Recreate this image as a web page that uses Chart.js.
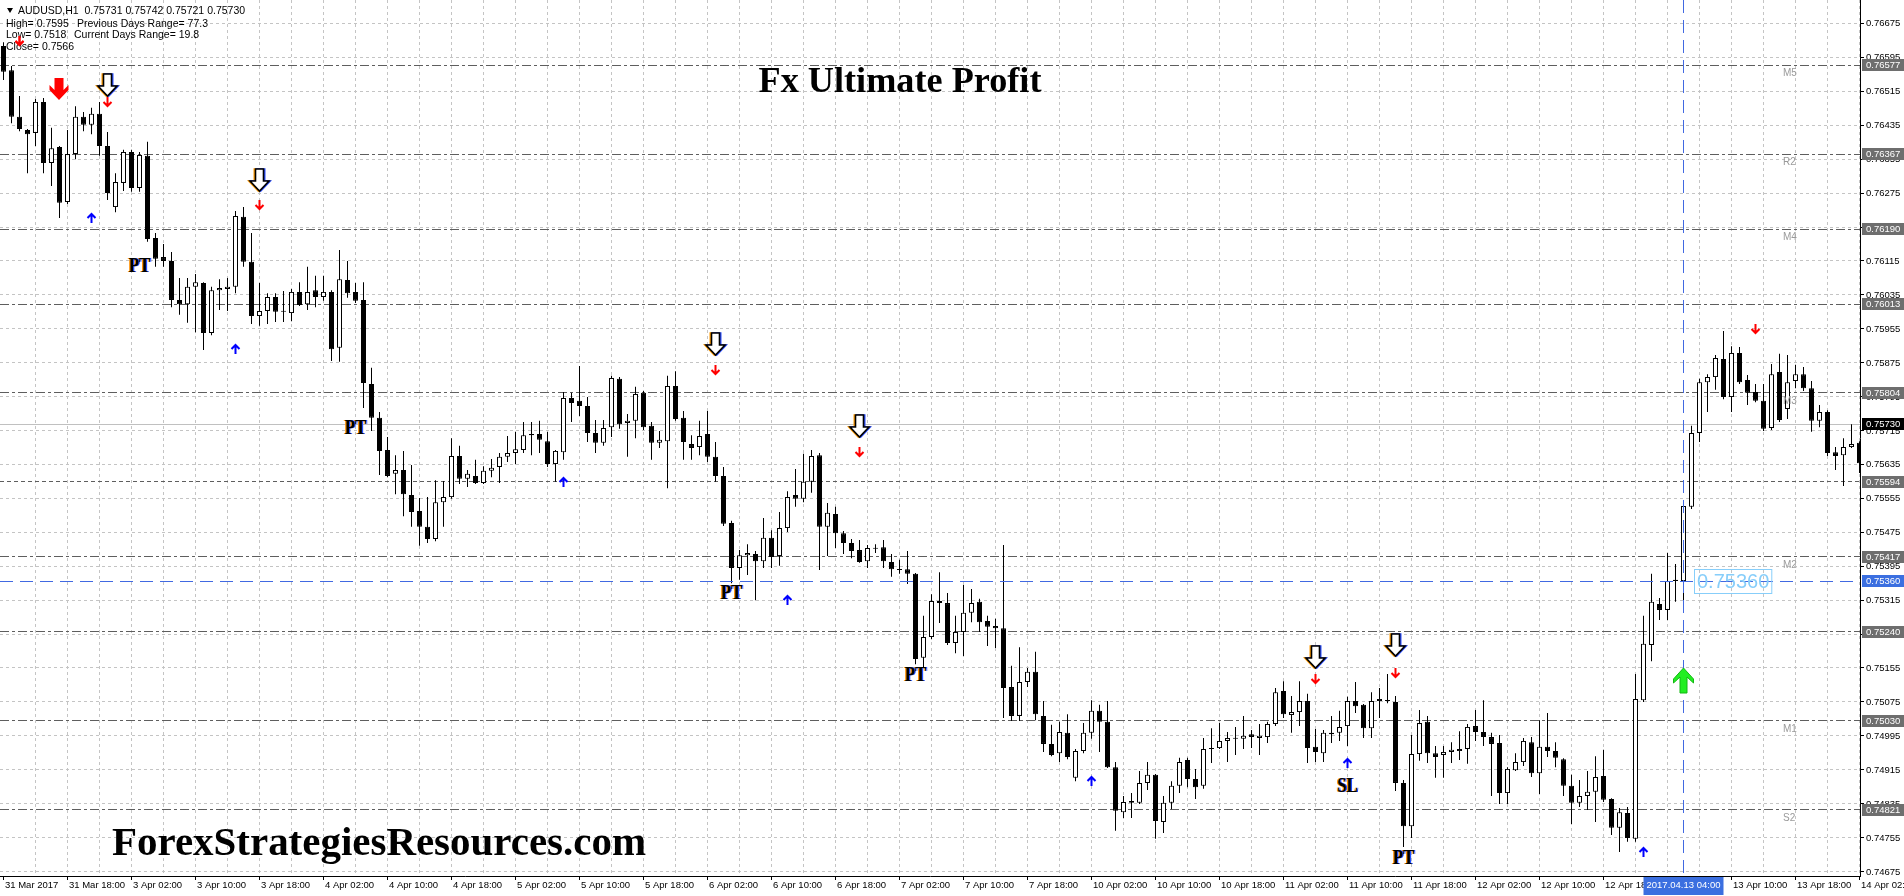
<!DOCTYPE html>
<html><head><meta charset="utf-8">
<script src="https://cdn.jsdelivr.net/npm/chart.js"></script>
<style>html,body{margin:0;padding:0;background:#fff;overflow:hidden}canvas{display:block}</style>
</head><body>
<canvas id="c" width="1904" height="896" style="width:1904px;height:896px"></canvas>
<script>
// ---------------- DATA (AUDUSD, H1) ----------------
const opens = [
0.76622,0.76565,0.76455,0.76424,0.76417,0.76490,0.76346,0.76384,0.76254,0.76367,
0.76455,0.76436,0.76462,0.76386,0.76242,0.76299,0.76372,0.76287,0.76363,0.76169,
0.76124,0.76115,0.76023,0.76013,0.76054,0.76063,0.75945,0.76046,0.76049,0.76054,
0.76219,0.76113,0.75985,0.75997,0.76030,0.75997,0.75992,0.76042,0.76013,0.76046,
0.76030,0.76042,0.75910,0.76070,0.76042,0.76023,0.75825,0.75745,0.75669,0.75613,
0.75622,0.75563,0.75525,0.75488,0.75459,0.75546,0.75558,0.75655,0.75601,0.75608,
0.75591,0.75620,0.75629,0.75653,0.75662,0.75669,0.75707,0.75707,0.75690,0.75636,
0.75664,0.75792,0.75785,0.75773,0.75709,0.75686,0.75723,0.75837,0.75733,0.75738,
0.75804,0.75726,0.75686,0.75690,0.75820,0.75745,0.75683,0.75676,0.75707,0.75653,
0.75608,0.75497,0.75391,0.75421,0.75424,0.75407,0.75462,0.75419,0.75485,0.75563,
0.75554,0.75594,0.75657,0.75488,0.75518,0.75473,0.75450,0.75433,0.75407,0.75436,
0.75440,0.75405,0.75386,0.75388,0.75377,0.75179,0.75228,0.75313,0.75308,0.75214,
0.75240,0.75285,0.75311,0.75266,0.75254,0.75249,0.75110,0.75042,0.75122,0.75146,
0.75042,0.74976,0.74954,0.75002,0.74896,0.74959,0.75002,0.75054,0.75028,0.74921,
0.74815,0.74841,0.74837,0.74884,0.74903,0.74792,0.74837,0.74877,0.74938,0.74893,
0.74877,0.74964,0.74966,0.74983,0.74990,0.74988,0.74999,0.74990,0.74992,0.75023,
0.75101,0.75044,0.75051,0.75077,0.74969,0.74954,0.74999,0.75002,0.75018,0.75077,
0.75068,0.75013,0.75077,0.75079,0.75075,0.74884,0.74782,0.74952,0.75028,0.74954,
0.74950,0.74957,0.74959,0.74964,0.75018,0.75004,0.74992,0.74978,0.74860,0.74914,
0.74933,0.74980,0.74907,0.74969,0.74959,0.74940,0.74877,0.74837,0.74853,0.74863,
0.74900,0.74846,0.74778,0.74813,0.74752,0.75079,0.75209,0.75306,0.75292,0.75360,
0.75360,0.75535,0.75709,0.75829,0.75841,0.75884,0.75794,0.75898,0.75834,0.75806,
0.75785,0.75721,0.75853,0.75766,0.75832,0.75848,0.75815,0.75738,0.75759,0.75664,
0.75657,0.75676,0.75686];
const highs = [
0.76631,0.76575,0.76504,0.76426,0.76497,0.76499,0.76429,0.76386,0.76424,0.76480,
0.76466,0.76476,0.76490,0.76419,0.76322,0.76377,0.76377,0.76372,0.76396,0.76181,
0.76155,0.76136,0.76075,0.76075,0.76084,0.76065,0.76054,0.76072,0.76075,0.76233,
0.76242,0.76181,0.76063,0.76039,0.76039,0.76044,0.76049,0.76065,0.76101,0.76080,
0.76080,0.76046,0.76141,0.76115,0.76063,0.76065,0.75863,0.75759,0.75700,0.75657,
0.75667,0.75634,0.75556,0.75558,0.75598,0.75596,0.75697,0.75679,0.75622,0.75646,
0.75631,0.75648,0.75662,0.75702,0.75712,0.75735,0.75735,0.75738,0.75712,0.75669,
0.75806,0.75804,0.75867,0.75794,0.75740,0.75740,0.75844,0.75841,0.75754,0.75818,
0.75808,0.75735,0.75714,0.75844,0.75855,0.75761,0.75704,0.75738,0.75761,0.75688,
0.75629,0.75502,0.75433,0.75447,0.75431,0.75509,0.75480,0.75523,0.75572,0.75624,
0.75660,0.75669,0.75662,0.75544,0.75535,0.75478,0.75459,0.75457,0.75445,0.75447,
0.75457,0.75424,0.75410,0.75431,0.75379,0.75278,0.75329,0.75381,0.75332,0.75278,
0.75351,0.75341,0.75318,0.75278,0.75271,0.75445,0.75160,0.75204,0.75155,0.75193,
0.75077,0.75021,0.75028,0.75046,0.74964,0.75025,0.75079,0.75068,0.75077,0.74933,
0.74853,0.74860,0.74912,0.74933,0.74905,0.74853,0.74888,0.74943,0.74943,0.74917,
0.74990,0.75013,0.75025,0.75004,0.75016,0.75042,0.75009,0.75023,0.75028,0.75108,
0.75124,0.75089,0.75124,0.75094,0.75011,0.75009,0.75042,0.75054,0.75087,0.75122,
0.75070,0.75098,0.75108,0.75141,0.75089,0.74891,0.74997,0.75056,0.75042,0.74971,
0.74971,0.74980,0.75006,0.75023,0.75056,0.75079,0.75002,0.74997,0.74921,0.74954,
0.74990,0.74992,0.75032,0.75049,0.74980,0.74942,0.74903,0.74891,0.74912,0.74947,
0.74962,0.74848,0.74825,0.74827,0.75141,0.75278,0.75377,0.75320,0.75426,0.75400,
0.75551,0.75726,0.75837,0.75848,0.75893,0.75950,0.75914,0.75912,0.75846,0.75825,
0.75825,0.75872,0.75896,0.75893,0.75870,0.75865,0.75832,0.75775,0.75763,0.75676,
0.75697,0.75730,0.75690];
const lows = [
0.76542,0.76440,0.76421,0.76322,0.76386,0.76322,0.76292,0.76216,0.76249,0.76355,
0.76421,0.76414,0.76363,0.76259,0.76230,0.76280,0.76278,0.76278,0.76160,0.76101,
0.76101,0.76006,0.75988,0.75969,0.75947,0.75905,0.75940,0.75999,0.75997,0.76039,
0.76101,0.75966,0.75962,0.75966,0.75971,0.75971,0.75973,0.76009,0.75999,0.76006,
0.76021,0.75879,0.75877,0.76028,0.76016,0.75768,0.75714,0.75610,0.75605,0.75565,
0.75513,0.75488,0.75443,0.75450,0.75454,0.75488,0.75554,0.75589,0.75582,0.75589,
0.75589,0.75605,0.75591,0.75641,0.75636,0.75662,0.75657,0.75662,0.75629,0.75594,
0.75646,0.75735,0.75749,0.75688,0.75662,0.75679,0.75700,0.75719,0.75653,0.75697,
0.75716,0.75646,0.75674,0.75579,0.75738,0.75646,0.75646,0.75657,0.75641,0.75594,
0.75490,0.75355,0.75363,0.75374,0.75315,0.75391,0.75391,0.75396,0.75476,0.75535,
0.75546,0.75568,0.75386,0.75419,0.75438,0.75424,0.75414,0.75403,0.75391,0.75426,
0.75391,0.75370,0.75377,0.75353,0.75164,0.75157,0.75223,0.75261,0.75209,0.75190,
0.75183,0.75263,0.75240,0.75207,0.75202,0.75037,0.75030,0.75030,0.75110,0.75032,
0.74957,0.74947,0.74933,0.74940,0.74888,0.74954,0.74988,0.74957,0.74919,0.74771,
0.74801,0.74801,0.74834,0.74867,0.74752,0.74766,0.74822,0.74860,0.74874,0.74846,
0.74870,0.74931,0.74964,0.74933,0.74950,0.74964,0.74966,0.74950,0.74978,0.75018,
0.75037,0.75002,0.75018,0.74931,0.74933,0.74933,0.74978,0.74983,0.74971,0.75049,
0.74990,0.74990,0.75037,0.75072,0.74865,0.74733,0.74754,0.74936,0.74931,0.74896,
0.74896,0.74931,0.74938,0.74929,0.74983,0.74971,0.74853,0.74834,0.74834,0.74912,
0.74924,0.74898,0.74858,0.74945,0.74921,0.74853,0.74787,0.74827,0.74820,0.74792,
0.74839,0.74761,0.74721,0.74745,0.74745,0.75075,0.75171,0.75268,0.75268,0.75311,
0.75311,0.75530,0.75688,0.75759,0.75811,0.75789,0.75759,0.75825,0.75775,0.75782,
0.75714,0.75716,0.75735,0.75742,0.75815,0.75808,0.75712,0.75723,0.75655,0.75622,
0.75584,0.75674,0.75615];
const closes = [
0.76561,0.76455,0.76426,0.76414,0.76490,0.76346,0.76381,0.76252,0.76367,0.76455,
0.76436,0.76462,0.76386,0.76275,0.76301,0.76372,0.76287,0.76365,0.76167,0.76120,
0.76115,0.76023,0.76013,0.76054,0.76065,0.75945,0.76046,0.76051,0.76054,0.76221,
0.76113,0.75985,0.75997,0.76030,0.75995,0.75995,0.76042,0.76011,0.76042,0.76030,
0.76042,0.75907,0.76072,0.76039,0.76021,0.75827,0.75745,0.75667,0.75608,0.75622,
0.75565,0.75523,0.75488,0.75459,0.75546,0.75558,0.75655,0.75601,0.75613,0.75591,
0.75620,0.75627,0.75653,0.75662,0.75671,0.75704,0.75704,0.75693,0.75636,0.75667,
0.75792,0.75780,0.75773,0.75709,0.75686,0.75721,0.75839,0.75730,0.75738,0.75801,
0.75723,0.75686,0.75693,0.75820,0.75742,0.75688,0.75674,0.75702,0.75653,0.75608,
0.75495,0.75391,0.75421,0.75426,0.75407,0.75462,0.75417,0.75485,0.75558,0.75554,
0.75594,0.75655,0.75488,0.75521,0.75473,0.75450,0.75431,0.75405,0.75438,0.75438,
0.75407,0.75388,0.75388,0.75377,0.75176,0.75228,0.75313,0.75308,0.75214,0.75240,
0.75285,0.75308,0.75263,0.75252,0.75249,0.75108,0.75042,0.75122,0.75146,0.75046,
0.74976,0.74950,0.75004,0.74945,0.74959,0.75002,0.75054,0.75028,0.74921,0.74818,
0.74839,0.74837,0.74884,0.74903,0.74794,0.74837,0.74877,0.74933,0.74893,0.74874,
0.74964,0.74966,0.74983,0.74990,0.74988,0.74995,0.74992,0.74995,0.75023,0.75098,
0.75046,0.75051,0.75077,0.74966,0.74957,0.75002,0.75002,0.75016,0.75077,0.75065,
0.75013,0.75077,0.75082,0.75077,0.74884,0.74782,0.74952,0.75025,0.74954,0.74945,
0.74957,0.74962,0.74964,0.75016,0.75004,0.74992,0.74976,0.74860,0.74917,0.74933,
0.74983,0.74907,0.74969,0.74959,0.74943,0.74877,0.74837,0.74853,0.74863,0.74898,
0.74844,0.74778,0.74815,0.74754,0.75082,0.75212,0.75311,0.75292,0.75360,0.75363,
0.75537,0.75709,0.75829,0.75841,0.75886,0.75794,0.75898,0.75829,0.75804,0.75785,
0.75719,0.75848,0.75740,0.75829,0.75848,0.75815,0.75738,0.75759,0.75662,0.75655,
0.75676,0.75683,0.75638];

// time axis labels: one every 8 bars, starting at bar 0
const timeLabels = ["31 Mar 2017","31 Mar 18:00","3 Apr 02:00","3 Apr 10:00","3 Apr 18:00",
"4 Apr 02:00","4 Apr 10:00","4 Apr 18:00","5 Apr 02:00","5 Apr 10:00","5 Apr 18:00",
"6 Apr 02:00","6 Apr 10:00","6 Apr 18:00","7 Apr 02:00","7 Apr 10:00","7 Apr 18:00",
"10 Apr 02:00","10 Apr 10:00","10 Apr 18:00","11 Apr 02:00","11 Apr 10:00","11 Apr 18:00",
"12 Apr 02:00","12 Apr 10:00","12 Apr 18:00","13 Apr 02:00","13 Apr 10:00","13 Apr 18:00","14 Apr 02:00"];
const barsPerLabel = 8;

// price axis tick labels
const priceTicks = [0.76675,0.76595,0.76515,0.76435,0.76355,0.76275,0.76195,0.76115,0.76035,
0.75955,0.75875,0.75795,0.75715,0.75635,0.75555,0.75475,0.75395,0.75315,0.75235,0.75155,
0.75075,0.74995,0.74915,0.74835,0.74755,0.74675];

// pivot levels
const pivotValues = [0.76577,0.76367,0.76190,0.76013,0.75804,0.75594,0.75417,0.75240,0.75030,0.74821];
const pivotNames  = ["M5","R2","M4","","M3","","M2","","M1","S2"];
const bidPrice = 0.75730;
const crossPrice = 0.75360;
const crossBar = 210;
const crossTimeText = "2017.04.13 04:00";

// signal markers (bar index, price at the top of the mark)
const hollowArrowBars   = [13, 32, 89, 107, 164, 174];
const hollowArrowPrices = [0.76556, 0.76332, 0.75945, 0.75752, 0.75207, 0.75235];
const redArrowBars   = [2, 13, 32, 89, 107, 164, 174, 219];
const redArrowPrices = [0.76646, 0.76502, 0.76259, 0.75870, 0.75676, 0.75141, 0.75155, 0.75966];
const blueArrowBars   = [11, 29, 70, 98, 136, 168, 205];
const blueArrowPrices = [0.76228, 0.75919, 0.75605, 0.75327, 0.74900, 0.74943, 0.74733];
const bigSellBar = 7,   bigSellPrice = 0.76546;
const bigBuyBar  = 210, bigBuyPrice  = 0.75155;
const tagTexts  = ["PT","PT","PT","PT","PT","SL"];
const tagBars   = [17, 44, 91, 114, 175, 168];
const tagPrices = [0.76122, 0.75740, 0.75351, 0.75157, 0.74726, 0.74896];

const headerLines = ["AUDUSD,H1  0.75731 0.75742 0.75721 0.75730"];
const statsLeft  = ["High= 0.7595","Low= 0.7518","Close= 0.7566"];
const statsRight = ["Previous Days Range= 77.3","Current Days Range= 19.8"];
const titleText = "Fx Ultimate Profit";
const siteText = "ForexStrategiesResources.com";

// ---------------- CHART ----------------
const N = opens.length;
const wickData = opens.map((o,i)=>({x:i, y:[lows[i], highs[i]]}));
const bodyData = opens.map((o,i)=>({x:i, y:[o, closes[i]]}));
const bodyFill = opens.map((o,i)=> closes[i] >= o ? '#ffffff' : '#000000');

const SANS = '"Liberation Sans", Arial, sans-serif';
const SERIF = '"Liberation Serif", "Times New Roman", serif';
function crisp(v){ return Math.round(v - 0.5) + 0.5; }
function fmt(v){ return v.toFixed(5); }

function dashLine(ctx, x1,y1,x2,y2, color, dash, w){
  ctx.save(); ctx.strokeStyle=color; ctx.lineWidth=w||1; ctx.setLineDash(dash);
  ctx.beginPath(); ctx.moveTo(x1,y1); ctx.lineTo(x2,y2); ctx.stroke(); ctx.restore();
}

const backdrop = {
  id:'backdrop',
  beforeDatasetsDraw(chart){
    const {ctx, chartArea:a, scales:{x:xs, y:ys}} = chart;
    ctx.save();
    ctx.beginPath(); ctx.rect(a.left, a.top, a.right-a.left, a.bottom-a.top); ctx.clip();
    ctx.strokeStyle='#c4c4c4'; ctx.lineWidth=1; ctx.setLineDash([3,3]);
    ctx.beginPath();
    for(let i=4;i<=N;i+=4){ const x=xs.getPixelForValue(i); ctx.moveTo(x,a.top); ctx.lineTo(x,a.bottom); }
    priceTicks.forEach(p=>{ const y=crisp(ys.getPixelForValue(p)); ctx.moveTo(a.left,y); ctx.lineTo(a.right,y); });
    ctx.stroke();
    const by = crisp(ys.getPixelForValue(bidPrice));
    dashLine(ctx, a.left, by, a.right, by, '#c0c0c0', [], 1);
    pivotValues.forEach((p,k)=>{
      const y = crisp(ys.getPixelForValue(p));
      const dash = (p===0.75594) ? [4,3] : [9,3,3,3];
      dashLine(ctx, a.left, y, a.right, y, '#5e5e5e', dash, 1);
    });
    ctx.restore();
  }
};

function hollowArrow(ctx, cx, ty){
  const pts=[[-4,0],[4,0],[4,12],[9.5,12],[0,22],[-9.5,12],[-4,12]];
  const path=(dx)=>{ ctx.beginPath(); pts.forEach((p,i)=>{ const X=cx+p[0]+dx, Y=ty+p[1]; i?ctx.lineTo(X,Y):ctx.moveTo(X,Y); }); ctx.closePath(); };
  ctx.lineWidth=1.6; ctx.lineJoin='miter';
  path(-1.2); ctx.strokeStyle='#ff9a00'; ctx.stroke();
  path(1.2); ctx.strokeStyle='#2a4dff'; ctx.stroke();
  path(0); ctx.fillStyle='#ffffff'; ctx.fill(); ctx.strokeStyle='#000'; ctx.stroke();
}
function smallArrow(ctx, cx, ty, up, color){
  ctx.strokeStyle=color; ctx.lineWidth=2; ctx.lineCap='butt'; ctx.setLineDash([]);
  ctx.beginPath();
  if(!up){ ctx.moveTo(cx,ty); ctx.lineTo(cx,ty+9); ctx.moveTo(cx-4,ty+5); ctx.lineTo(cx,ty+9); ctx.lineTo(cx+4,ty+5); }
  else { ctx.moveTo(cx,ty+1); ctx.lineTo(cx,ty+10); ctx.moveTo(cx-4,ty+5); ctx.lineTo(cx,ty+1); ctx.lineTo(cx+4,ty+5); }
  ctx.stroke();
}
function bigArrow(ctx, cx, ty, up, color, edge){
  let pts;
  if(up) pts=[[0,0],[10,11],[10,15],[3.5,9],[3.5,25],[-3.5,25],[-3.5,9],[-10,15],[-10,11]];
  else   pts=[[-4.5,0],[4.5,0],[4.5,12],[9.5,7],[9.5,12],[0,22],[-9.5,12],[-9.5,7],[-4.5,12]];
  ctx.beginPath(); pts.forEach((p,i)=>{ const X=cx+p[0], Y=ty+p[1]; i?ctx.lineTo(X,Y):ctx.moveTo(X,Y); }); ctx.closePath();
  ctx.fillStyle=color; ctx.fill();
  if(edge){ ctx.strokeStyle=edge; ctx.lineWidth=1; ctx.stroke(); }
}
function tagText(ctx, txt, cx, ty){
  ctx.save(); ctx.font='bold 21px '+SERIF; ctx.textAlign='center'; ctx.textBaseline='alphabetic';
  const draw=(dx,col)=>{ ctx.save(); ctx.translate(cx+dx, ty+14); ctx.scale(0.8,1); ctx.fillStyle=col; ctx.fillText(txt,0,0); ctx.restore(); };
  draw(-1.2,'#ff9000'); draw(1.2,'#1f4fff'); draw(0,'#000');
  ctx.restore();
}
function fitText(ctx, txt, x, y, font, targetW, color, align){
  ctx.save(); ctx.font=font; const w=ctx.measureText(txt).width; const s=targetW/w;
  ctx.translate(x,y); ctx.scale(s,1); ctx.textAlign=align; ctx.textBaseline='middle'; ctx.fillStyle=color; ctx.fillText(txt,0,0); ctx.restore();
}

const overlay = {
  id:'overlay',
  afterDatasetsDraw(chart){
    const {ctx, chartArea:a, scales:{x:xs, y:ys}} = chart;
    ctx.save();
    ctx.beginPath(); ctx.rect(a.left, a.top, a.right-a.left, a.bottom-a.top); ctx.clip();
    const cy = crisp(ys.getPixelForValue(crossPrice));
    const cxp = xs.getPixelForValue(crossBar);
    dashLine(ctx, a.left, cy, a.right, cy, '#4169e1', [13,7], 1);
    dashLine(ctx, cxp, a.top, cxp, a.bottom, '#4169e1', [13,7], 1);
    hollowArrowBars.forEach((b,k)=>hollowArrow(ctx, xs.getPixelForValue(b), Math.round(ys.getPixelForValue(hollowArrowPrices[k]))));
    redArrowBars.forEach((b,k)=>smallArrow(ctx, xs.getPixelForValue(b), Math.round(ys.getPixelForValue(redArrowPrices[k])), false, '#ff0000'));
    blueArrowBars.forEach((b,k)=>smallArrow(ctx, xs.getPixelForValue(b), Math.round(ys.getPixelForValue(blueArrowPrices[k])), true, '#0000ff'));
    bigArrow(ctx, xs.getPixelForValue(bigSellBar)-0.5, Math.round(ys.getPixelForValue(bigSellPrice)), false, '#ff0000');
    bigArrow(ctx, xs.getPixelForValue(bigBuyBar), Math.round(ys.getPixelForValue(bigBuyPrice)), true, '#22ee22', '#12b812');
    tagTexts.forEach((t,k)=>tagText(ctx, t, xs.getPixelForValue(tagBars[k]), Math.round(ys.getPixelForValue(tagPrices[k]))));
    ctx.font='10px '+SANS; ctx.fillStyle='#9a9a9a'; ctx.textAlign='left'; ctx.textBaseline='top';
    pivotValues.forEach((p,k)=>{ if(pivotNames[k]) ctx.fillText(pivotNames[k], 1783, Math.round(ys.getPixelForValue(p))+3); });
    ctx.font='20px '+SANS; const tw=ctx.measureText(fmt(crossPrice)).width;
    ctx.strokeStyle='#87cefa'; ctx.lineWidth=1; ctx.setLineDash([]);
    ctx.strokeRect(1694.5, cy-12, tw+5, 24);
    ctx.fillStyle='#87cefa'; ctx.textBaseline='middle'; ctx.fillText(fmt(crossPrice), 1697, cy+1);
    fitText(ctx, titleText, 900, 83, 'bold 36px '+SERIF, 283, '#000', 'center');
    fitText(ctx, siteText, 112, 844, 'bold 41px '+SERIF, 534, '#000', 'left');
    ctx.fillStyle='#000'; ctx.font='10.5px '+SANS; ctx.textAlign='left'; ctx.textBaseline='middle';
    ctx.beginPath(); ctx.moveTo(7,8); ctx.lineTo(13,8); ctx.lineTo(10,13); ctx.closePath(); ctx.fill();
    ctx.fillText(headerLines[0], 18, 11);
    ctx.fillText(statsLeft[0], 6, 24); ctx.fillText(statsRight[0], 77, 24);
    ctx.fillText(statsLeft[1], 6, 35); ctx.fillText(statsRight[1], 74, 35);
    ctx.fillText(statsLeft[2], 6, 47);
    smallArrow(ctx, xs.getPixelForValue(redArrowBars[0]), Math.round(ys.getPixelForValue(redArrowPrices[0])), false, '#ff0000');
    ctx.restore();
  },
  afterDraw(chart){
    const {ctx, chartArea:a, scales:{x:xs, y:ys}} = chart;
    ctx.save();
    ctx.setLineDash([]);
    ctx.font='9.5px '+SANS; ctx.textAlign='left'; ctx.textBaseline='middle';
    ctx.strokeStyle='#000'; ctx.lineWidth=1; ctx.beginPath();
    priceTicks.forEach(p=>{ const y=crisp(ys.getPixelForValue(p)); ctx.moveTo(a.right,y); ctx.lineTo(a.right+4,y); });
    ctx.stroke();
    ctx.fillStyle='#000';
    priceTicks.forEach(p=>{ ctx.fillText(fmt(p), a.right+6, Math.round(ys.getPixelForValue(p))+0.5); });
    const box=(p,bg)=>{ const y=Math.round(ys.getPixelForValue(p)); ctx.fillStyle=bg; ctx.fillRect(a.right+2, y-6, 42, 12); ctx.fillStyle='#fff'; ctx.fillText(fmt(p), a.right+6, y+0.5); };
    pivotValues.forEach(p=>box(p,'#6e6e6e'));
    box(bidPrice,'#000000');
    box(crossPrice,'#3b6fe0');
    ctx.font='9.5px '+SANS; ctx.textBaseline='middle';
    ctx.beginPath();
    timeLabels.forEach((t,k)=>{ const x=xs.getPixelForValue(k*barsPerLabel); ctx.moveTo(x,a.bottom); ctx.lineTo(x,a.bottom+4); });
    ctx.strokeStyle='#000'; ctx.stroke();
    ctx.fillStyle='#000';
    timeLabels.forEach((t,k)=>{ const x=xs.getPixelForValue(k*barsPerLabel); ctx.fillText(t, Math.round(x)+1, a.bottom+9); });
    const cxp = xs.getPixelForValue(crossBar);
    ctx.fillStyle='#3b6fe0'; ctx.fillRect(cxp-40, a.bottom+1, 80, 18);
    ctx.fillStyle='#fff'; ctx.textAlign='center'; ctx.fillText(crossTimeText, cxp, a.bottom+9);
    ctx.restore();
  }
};

new Chart(document.getElementById('c').getContext('2d'), {
  type:'bar',
  data:{ datasets:[
    { data: bodyData, backgroundColor: bodyFill, borderColor:'#000', borderWidth:1, borderSkipped:false,
      barThickness:5, grouped:false, order:1, minBarLength:1, inflateAmount:0 },
    { data: wickData, backgroundColor:'#000', borderWidth:0, barThickness:1, grouped:false, order:2, inflateAmount:0 }
  ]},
  options:{
    responsive:false, animation:false, devicePixelRatio:1, events:[],
    layout:{ padding:0 },
    plugins:{ legend:{display:false}, tooltip:{enabled:false} },
    scales:{
      x:{ type:'linear', min:-0.4375, max:232.0625, offset:false, position:'bottom',
          grid:{display:false, offset:false}, ticks:{display:false},
          border:{display:true, color:'#000', width:1},
          afterFit(s){ s.height = 20; } },
      y:{ type:'linear', position:'right', min:0.746644, max:0.767304,
          grid:{display:false}, ticks:{display:false},
          border:{display:true, color:'#000', width:1},
          afterFit(s){ s.width = 44; } }
    }
  },
  plugins:[backdrop, overlay]
});
</script>
</body></html>
